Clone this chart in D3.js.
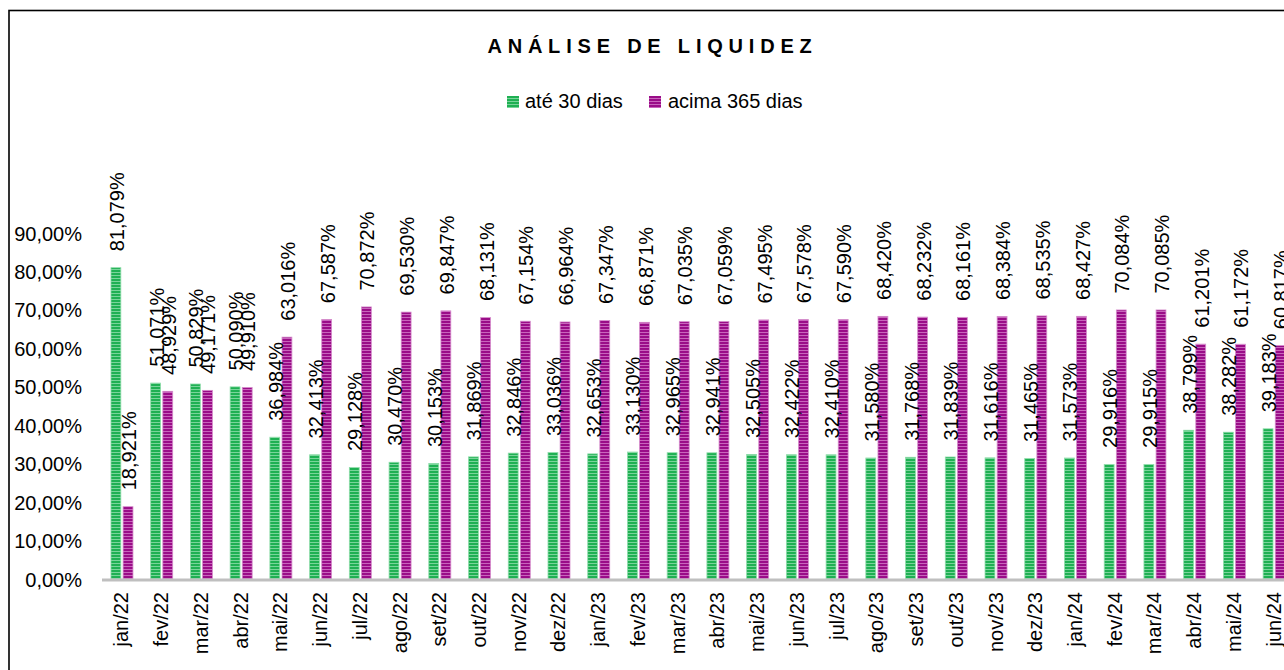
<!DOCTYPE html>
<html>
<head>
<meta charset="utf-8">
<script src="https://cdn.jsdelivr.net/npm/d3@7"></script>
<style>
  html, body { margin: 0; padding: 0; background: #fff; }
  svg { display: block; }
  text { font-family: "Liberation Sans", Arial, sans-serif; fill: #000; }
</style>
</head>
<body>
<svg id="chart" width="1284" height="670"></svg>
<script>
const categories = ["jan/22","fev/22","mar/22","abr/22","mai/22","jun/22","jul/22","ago/22","set/22","out/22","nov/22","dez/22",
  "jan/23","fev/23","mar/23","abr/23","mai/23","jun/23","jul/23","ago/23","set/23","out/23","nov/23","dez/23",
  "jan/24","fev/24","mar/24","abr/24","mai/24","jun/24"];
const ate30 = [81.079,51.071,50.829,50.090,36.984,32.413,29.128,30.470,30.153,31.869,32.846,33.036,
  32.653,33.130,32.965,32.941,32.505,32.422,32.410,31.580,31.768,31.839,31.616,31.465,
  31.573,29.916,29.915,38.799,38.282,39.183];
const acima365 = [18.921,48.929,49.171,49.910,63.016,67.587,70.872,69.530,69.847,68.131,67.154,66.964,
  67.347,66.871,67.035,67.059,67.495,67.578,67.590,68.420,68.232,68.161,68.384,68.535,
  68.427,70.084,70.085,61.201,61.172,60.817];
const seriesNames = ["até 30 dias", "acima 365 dias"];
const yTicks = [0,10,20,30,40,50,60,70,80,90];

const svg = d3.select("#chart");
const defs = svg.append("defs");
function makePattern(id, dark, light) {
  const p = defs.append("pattern").attr("id", id).attr("patternUnits", "userSpaceOnUse")
    .attr("width", 6).attr("height", 3);
  p.append("rect").attr("width", 6).attr("height", 3).attr("fill", dark);
  p.append("rect").attr("y", 2).attr("width", 6).attr("height", 1).attr("fill", light);
}
makePattern("pGreen", "#1fb053", "#79d49a");
makePattern("pMag", "#9a0d88", "#c865bc");
const fills = ["url(#pGreen)", "url(#pMag)"];
const strokes = ["#8fdcaa", "#d58ccb"];

// border
svg.append("rect").attr("x", 9).attr("y", 10.5).attr("width", 1400).attr("height", 800)
  .attr("fill", "none").attr("stroke", "#000").attr("stroke-width", 1.6);

// title
svg.append("text").attr("x", 649.5 + 3).attr("y", 53).attr("text-anchor", "middle")
  .attr("font-size", 20).attr("font-weight", "bold").attr("letter-spacing", "5.8px")
  .text("ANÁLISE DE LIQUIDEZ");

// legend
const legendPos = [[507, 525], [649, 668]];
seriesNames.forEach((n, i) => {
  svg.append("rect").attr("x", legendPos[i][0]).attr("y", 96).attr("width", 12).attr("height", 12)
    .attr("fill", fills[i]);
  svg.append("text").attr("x", legendPos[i][1]).attr("y", 108).attr("font-size", 20).text(n);
});

const y = d3.scaleLinear().domain([0, 90]).range([579, 233]);
const x = d3.scaleBand().domain(categories).range([102.1, 102.1 + 30 * 39.73]).padding(0);
const xSub = d3.scaleBand().domain([0, 1]).range([-11.4, 11.4]).paddingInner(0.12);

// y axis labels
const yAxis = d3.axisLeft(y).tickValues(yTicks).tickSize(0).tickPadding(0)
  .tickFormat(d => d3.format(".2f")(d).replace(".", ",") + "%");
const gy = svg.append("g").attr("transform", "translate(82,0)").call(yAxis);
gy.select(".domain").remove();
gy.selectAll("text").attr("font-size", 20).attr("font-family", "Liberation Sans, Arial, sans-serif")
  .attr("fill", "#000").attr("dy", "0.35em");

const data = [ate30, acima365];
const gBars = svg.append("g");
data.forEach((vals, si) => {
  gBars.selectAll(".b" + si).data(vals).enter().append("rect")
    .attr("x", (d, i) => x(categories[i]) + x.bandwidth() / 2 + xSub(si) + 0.4)
    .attr("width", xSub.bandwidth() - 0.8)
    .attr("y", d => y(d) + 0.4)
    .attr("height", d => y(0) - y(d))
    .attr("fill", fills[si])
    .attr("stroke", strokes[si]).attr("stroke-width", 0.8);
});

// baseline
svg.append("line").attr("x1", 102).attr("x2", 1284).attr("y1", 580).attr("y2", 580)
  .attr("stroke", "#bfbfbf").attr("stroke-width", 3);

// data labels
data.forEach((vals, si) => {
  svg.selectAll(".l" + si).data(vals).enter().append("text")
    .attr("transform", (d, i) => {
      const cx = x(categories[i]) + x.bandwidth() / 2 + xSub(si) + xSub.bandwidth() / 2 + 1;
      return `translate(${cx},${y(d) - 16}) rotate(-90)`;
    })
    .attr("dy", "0.35em").attr("font-size", 20)
    .text(d => d3.format(".3f")(d).replace(".", ",") + "%");
});

// x labels
svg.selectAll(".xl").data(categories).enter().append("text")
  .attr("transform", d => `translate(${x(d) + x.bandwidth() / 2 - 0.5},592) rotate(-90)`)
  .attr("text-anchor", "end").attr("dy", "0.35em").attr("font-size", 20)
  .text(d => d);
</script>
</body>
</html>
